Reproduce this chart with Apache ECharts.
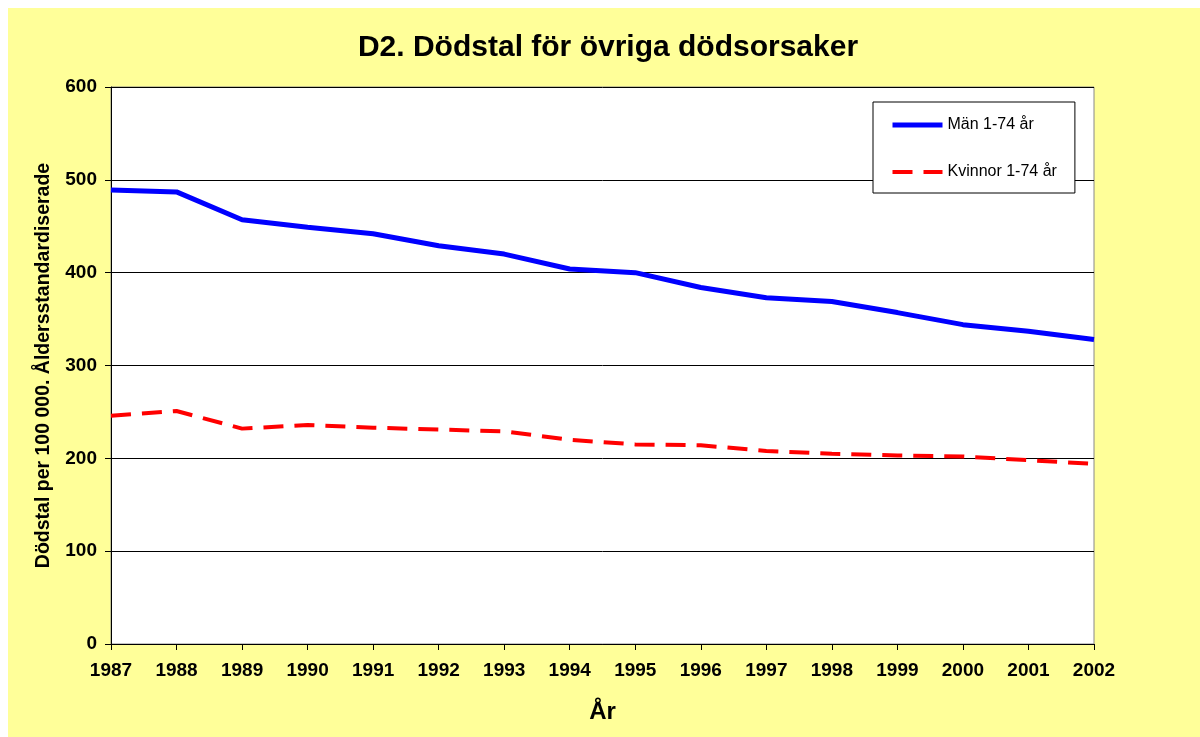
<!DOCTYPE html>
<html>
<head>
<meta charset="utf-8">
<title>D2. Dödstal för övriga dödsorsaker</title>
<script src="https://cdn.jsdelivr.net/npm/echarts@6/dist/echarts.min.js"></script>
<style>
    html, body { margin: 0; padding: 0; background: #fff; }
    #chart {
        position: absolute;
        left: 8px;
        top: 8px;
        width: 1192px;
        height: 729px;
        background: #ffff99;
    }
</style>
</head>
<body>
<div id="chart"></div>
<script>
// Years on the x axis
const years = ['1987', '1988', '1989', '1990', '1991', '1992', '1993', '1994',
    '1995', '1996', '1997', '1998', '1999', '2000', '2001', '2002'];

// Deaths per 100 000, age-standardised
const men = [489, 487, 457, 449, 442, 429, 420, 404, 400, 384, 373, 369, 357, 344, 337, 328];
const women = [246, 251, 232, 236, 233, 231, 229, 220, 215, 214, 208, 205, 203, 202, 198, 194];

const FONT = '"Liberation Sans", Arial, sans-serif';
const womenDash = [20, 11];

const chart = echarts.init(document.getElementById('chart'), null, { renderer: 'canvas' });

const option = {
    backgroundColor: '#ffff99',
    animation: false,
    title: {
        text: 'D2. Dödstal för övriga dödsorsaker',
        left: 595,
        top: 20,
        textAlign: 'center',
        textStyle: { fontFamily: FONT, fontSize: 30, fontWeight: 'bold', color: '#000' }
    },
    grid: {
        left: 103,
        top: 79,
        right: 106,
        bottom: 93,
        show: true,
        backgroundColor: '#fff',
        borderColor: '#888',
        borderWidth: 1
    },
    legend: {
        orient: 'vertical',
        left: 865,
        top: 94,
        itemWidth: 50,
        itemHeight: 14,
        itemGap: 31,
        padding: [15, 18, 13, 17],
        backgroundColor: '#fff',
        borderColor: '#000',
        borderWidth: 1,
        textStyle: { fontFamily: FONT, fontSize: 16, color: '#000' },
        data: [
            {
                name: 'Män 1-74 år',
                itemStyle: { opacity: 0 },
                lineStyle: { color: '#0000ff', width: 5, type: 'solid' }
            },
            {
                name: 'Kvinnor 1-74 år',
                itemStyle: { opacity: 0 },
                lineStyle: { color: '#ff0000', width: 4, type: womenDash }
            }
        ]
    },
    xAxis: {
        type: 'category',
        data: years,
        boundaryGap: false,
        name: 'År',
        nameLocation: 'middle',
        nameGap: 56,
        nameTextStyle: { fontFamily: FONT, fontSize: 24, fontWeight: 'bold', color: '#000' },
        axisLine: { lineStyle: { color: '#000', width: 1 } },
        axisTick: { show: true, length: 6, alignWithLabel: true, lineStyle: { color: '#000' } },
        axisLabel: { fontFamily: FONT, fontSize: 19, fontWeight: 'bold', color: '#000', margin: 17 },
        splitLine: { show: false }
    },
    yAxis: {
        type: 'value',
        min: 0,
        max: 600,
        interval: 100,
        name: 'Dödstal per 100 000. Åldersstandardiserade',
        nameLocation: 'middle',
        nameGap: 57,
        nameTextStyle: { fontFamily: FONT, fontSize: 19.5, fontWeight: 'bold', color: '#000' },
        axisLine: { show: true, lineStyle: { color: '#000', width: 1 } },
        axisTick: { show: true, length: 6, lineStyle: { color: '#000' } },
        axisLabel: { fontFamily: FONT, fontSize: 19, fontWeight: 'bold', color: '#000', margin: 14 },
        splitLine: { show: true, lineStyle: { color: '#000', width: 1 } }
    },
    series: [
        {
            name: 'Män 1-74 år',
            type: 'line',
            data: men,
            symbol: 'none',
            lineStyle: { color: '#0000ff', width: 5 },
            itemStyle: { color: '#0000ff' }
        },
        {
            name: 'Kvinnor 1-74 år',
            type: 'line',
            data: women,
            symbol: 'none',
            lineStyle: { color: '#ff0000', width: 4, type: womenDash },
            itemStyle: { color: '#ff0000' }
        }
    ]
};

chart.setOption(option);
window.addEventListener('resize', () => chart.resize());
</script>
</body>
</html>
